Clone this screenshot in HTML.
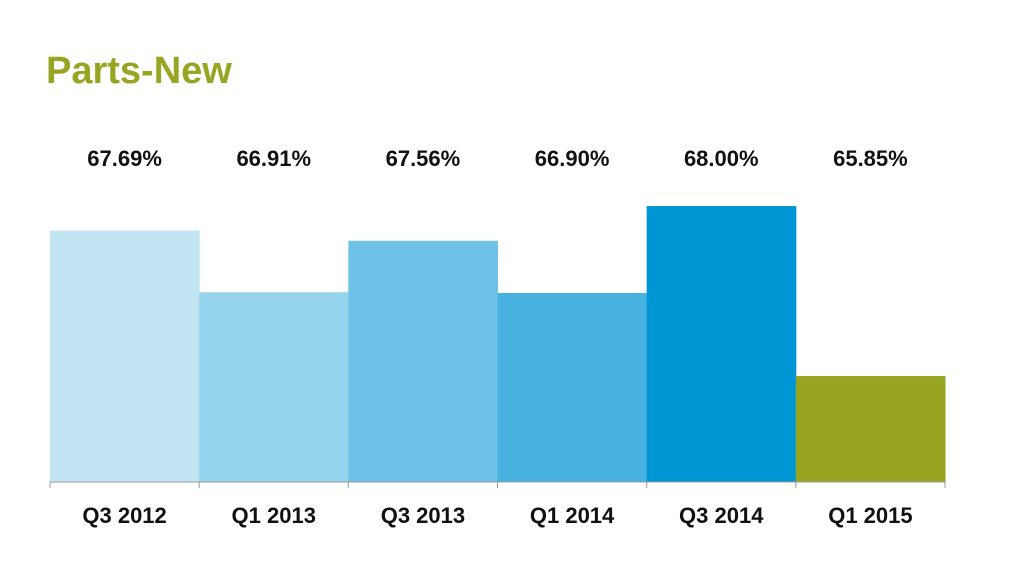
<!DOCTYPE html>
<html><head><meta charset="utf-8"><style>
body{margin:0;background:#fff;}
svg{display:block;font-family:"Liberation Sans",sans-serif;}
</style></head><body>
<svg width="1024" height="562">
<text x="46" y="83" font-size="38" font-weight="bold" fill="#97a522">Parts-New</text>
<g id="bars"></g>
<g id="axis"></g>
</svg>
<script>
const categories=["Q3 2012","Q1 2013","Q3 2013","Q1 2014","Q3 2014","Q1 2015"];
const values=[67.69,66.91,67.56,66.90,68.00,65.85];
const valueLabels=["67.69%","66.91%","67.56%","66.90%","68.00%","65.85%"];
const colors=["#c2e5f4","#97d4ee","#6fc2e7","#47b1e0","#0096d6","#97a522"];
const ns="http://www.w3.org/2000/svg";
const x0=50,x1=945,baseY=482,yMin=64.51,pxPer=79.07;
const bw=(x1-x0)/categories.length;
const xS=i=>x0+i*bw;
const yS=v=>baseY-(v-yMin)*pxPer;
const bars=document.getElementById('bars'),axis=document.getElementById('axis');
function mk(t,a,p){const e=document.createElementNS(ns,t);for(const k in a)e.setAttribute(k,a[k]);p.appendChild(e);return e;}
values.forEach((v,i)=>{
 const r=mk('rect',{x:xS(i),y:yS(v),width:bw+0.5,height:baseY-yS(v),fill:colors[i]},bars);
 
 
 const t=mk('text',{x:xS(i)+bw/2,y:166,'text-anchor':'middle','font-size':'22','font-weight':'bold',fill:'#111'},bars);
 t.textContent=valueLabels[i];
 
 
 const c=mk('text',{x:xS(i)+bw/2,y:523,'text-anchor':'middle','font-size':'22','font-weight':'bold',fill:'#111'},axis);
 c.textContent=categories[i];
 
 
});
const l=mk('line',{x1:x0,x2:x1,y1:baseY,y2:baseY,stroke:'#999','stroke-width':1},axis);


for(let i=0;i<=categories.length;i++){
 const tk=mk('line',{x1:xS(i),x2:xS(i),y1:baseY,y2:baseY+6,stroke:'#999','stroke-width':1},axis);
 
 
}
</script>
</body></html>
